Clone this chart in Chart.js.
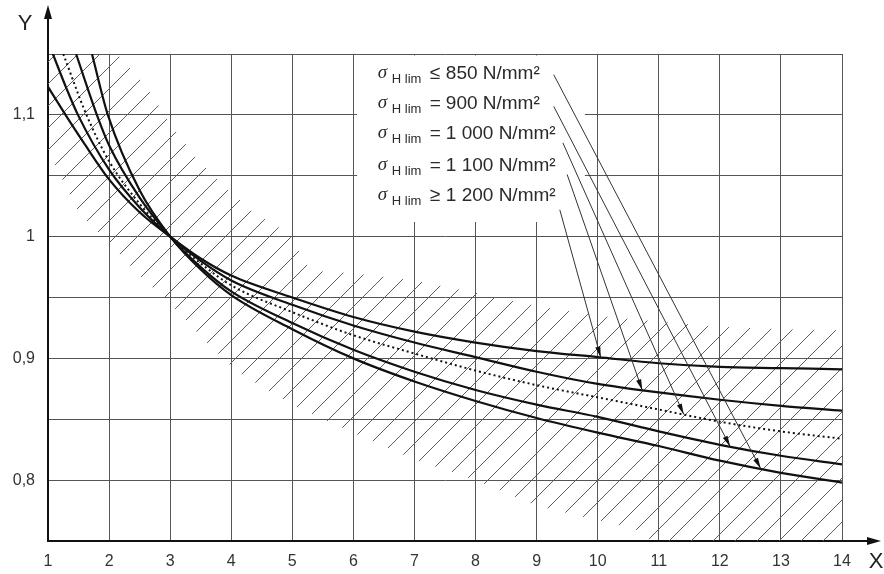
<!DOCTYPE html>
<html>
<head>
<meta charset="utf-8">
<script src="https://cdn.jsdelivr.net/npm/chart.js@4.4.0/dist/chart.umd.min.js"></script>
<style>
  html, body { margin: 0; padding: 0; background: #fff; }
</style>
</head>
<body>
<canvas id="grafico" width="884" height="574"></canvas>
<script>
// ZR over Rz10 for the five sigma H lim curves, [x, y] pairs
const zr1200 = [[1, 1.123], [1.3, 1.099], [1.6, 1.076], [2, 1.047], [2.5, 1.02], [3, 1.0], [3.5, 0.982], [4, 0.968], [5, 0.95], [6, 0.934], [7, 0.922], [8, 0.913], [9, 0.906], [10, 0.901], [11, 0.896], [12, 0.893], [13, 0.892], [14, 0.891]];
const zr1100 = [[1.08, 1.15], [1.3, 1.122], [1.49, 1.1], [2, 1.055], [2.5, 1.024], [3, 1.0], [3.5, 0.98], [4, 0.964], [5, 0.944], [6, 0.927], [7, 0.913], [8, 0.901], [9, 0.889], [10, 0.879], [11, 0.872], [12, 0.866], [13, 0.861], [14, 0.857]];
const zr1000 = [[1.25, 1.15], [1.63, 1.1], [2, 1.062], [2.5, 1.027], [3, 1.0], [3.5, 0.978], [4, 0.96], [5, 0.938], [6, 0.919], [7, 0.904], [8, 0.89], [9, 0.878], [10, 0.868], [11, 0.858], [12, 0.848], [13, 0.84], [14, 0.834]];
const zr900 = [[1.46, 1.15], [1.8, 1.1], [2, 1.075], [2.5, 1.032], [3, 1.0], [3.5, 0.975], [4, 0.955], [5, 0.929], [6, 0.907], [7, 0.889], [8, 0.874], [9, 0.862], [10, 0.852], [11, 0.84], [12, 0.829], [13, 0.82], [14, 0.813]];
const zr850 = [[1.72, 1.15], [1.98, 1.1], [2.5, 1.038], [3, 1.0], [3.5, 0.973], [4, 0.952], [5, 0.924], [6, 0.9], [7, 0.881], [8, 0.865], [9, 0.851], [10, 0.839], [11, 0.828], [12, 0.816], [13, 0.806], [14, 0.798]];

// hatched scatter band: upper and lower edge
const bandUpper = [[1, 1.15], [2.13, 1.15], [2.6, 1.124], [3, 1.093], [3.4, 1.066], [3.85, 1.043], [4.36, 1.02], [4.93, 1.003], [5.3, 0.972], [6, 0.97], [7, 0.964], [8, 0.954], [9, 0.943], [10, 0.935], [11, 0.93], [12, 0.926], [13, 0.924], [14, 0.923]];
const bandLower = [[1, 1.071], [1.5, 1.02], [2, 0.995], [2.5, 0.968], [3, 0.945], [3.6, 0.913], [4.1, 0.889], [5, 0.862], [6, 0.839], [7, 0.817], [8, 0.8], [9, 0.779], [10, 0.767], [10.6, 0.76], [10.9, 0.75], [14, 0.75]];

const yLabelled = [0.8, 0.9, 1, 1.1];

// label rows: relation text, value, start of the leader line, x where the arrow hits its curve
const legendRel = ["\u2264", "=", "=", "=", "\u2265"];
const legendVal = ["850 N/mm\u00b2", "900 N/mm\u00b2", "1 000 N/mm\u00b2", "1 100 N/mm\u00b2", "1 200 N/mm\u00b2"];
const legendBase = [1.1295, 1.105, 1.08, 1.054, 1.0295];
const leaderStart = [[9.28, 1.133], [9.28, 1.107], [9.43, 1.077], [9.5, 1.051], [9.38, 1.022]];
const leaderTipX = [12.67, 12.17, 11.41, 10.73, 10.05];
const leaderCurve = [zr850, zr900, zr1000, zr1100, zr1200];

const pts = (arr) => arr.map((p) => ({ x: p[0], y: p[1] }));

// y on a curve at x, straight between listed points
function curveAt(arr, x) {
  for (let i = 1; i < arr.length; i++) {
    if (x <= arr[i][0]) {
      const a = arr[i - 1], b = arr[i];
      return a[1] + (b[1] - a[1]) * (x - a[0]) / (b[0] - a[0]);
    }
  }
  return arr[arr.length - 1][1];
}

function hatchPattern(ctx) {
  const c = document.createElement("canvas");
  c.width = 22;
  c.height = 22;
  const g = c.getContext("2d");
  g.strokeStyle = "#5e5e5e";
  g.lineWidth = 1;
  g.beginPath();
  [-22, 0, 22].forEach((k) => {
    g.moveTo(k - 1, 23);
    g.lineTo(k + 23, -1);
  });
  g.stroke();
  return ctx.createPattern(c, "repeat");
}

function arrowHead(ctx, x0, y0, x1, y1, len, half) {
  const a = Math.atan2(y1 - y0, x1 - x0);
  ctx.beginPath();
  ctx.moveTo(x1, y1);
  ctx.lineTo(x1 - len * Math.cos(a) + half * Math.sin(a), y1 - len * Math.sin(a) - half * Math.cos(a));
  ctx.lineTo(x1 - len * Math.cos(a) - half * Math.sin(a), y1 - len * Math.sin(a) + half * Math.cos(a));
  ctx.closePath();
  ctx.fill();
}

// white label box, sigma labels and leader arrows
const labelsPlugin = {
  id: "labels",
  afterDatasetsDraw(chart) {
    const ctx = chart.ctx;
    const sx = chart.scales.x, sy = chart.scales.y;
    ctx.save();
    ctx.fillStyle = "#fff";
    const bx = sx.getPixelForValue(6.06), by = sy.getPixelForValue(1.15) + 1.5;
    ctx.fillRect(bx, by, sx.getPixelForValue(9.79) - bx, sy.getPixelForValue(1.012) - by);

    ctx.fillStyle = "#2a2a2a";
    ctx.textBaseline = "alphabetic";
    const x0 = sx.getPixelForValue(6.4);
    legendVal.forEach((v, i) => {
      const yb = sy.getPixelForValue(legendBase[i]);
      ctx.font = 'italic 19px "Liberation Serif"';
      ctx.fillText("\u03c3", x0, yb - 1);
      ctx.font = '13px "Liberation Sans"';
      ctx.fillText("H lim", x0 + 14, yb + 4);
      ctx.font = '19px "Liberation Sans"';
      ctx.fillText(legendRel[i], x0 + 52, yb);
      ctx.fillText(v, x0 + 68, yb);
    });

    ctx.strokeStyle = "#333";
    ctx.fillStyle = "#111";
    ctx.lineWidth = 1;
    leaderStart.forEach((s, i) => {
      const px0 = sx.getPixelForValue(s[0]), py0 = sy.getPixelForValue(s[1]);
      const tx = leaderTipX[i];
      const px1 = sx.getPixelForValue(tx), py1 = sy.getPixelForValue(curveAt(leaderCurve[i], tx));
      ctx.beginPath();
      ctx.moveTo(px0, py0);
      ctx.lineTo(px1, py1);
      ctx.stroke();
      arrowHead(ctx, px0, py0, px1, py1, 11, 2.6);
    });
    ctx.restore();
  },
  afterDraw(chart) {
    // axis arrows and axis letters
    const ctx = chart.ctx;
    const a = chart.chartArea;
    ctx.save();
    ctx.strokeStyle = "#111";
    ctx.fillStyle = "#111";
    ctx.lineWidth = 2;
    ctx.beginPath();
    ctx.moveTo(a.left, a.top);
    ctx.lineTo(a.left, 14);
    ctx.moveTo(a.right, a.bottom);
    ctx.lineTo(872, a.bottom);
    ctx.stroke();
    arrowHead(ctx, a.left, a.top, a.left, 5, 14, 4);
    arrowHead(ctx, a.right, a.bottom, 881, a.bottom, 14, 4);
    ctx.fillStyle = "#222";
    ctx.font = '22px "Liberation Sans"';
    ctx.textAlign = "center";
    ctx.textBaseline = "middle";
    ctx.fillText("Y", 25, 24);
    ctx.fillText("X", 876, 562);
    ctx.restore();
  }
};

const ctx = document.getElementById("grafico").getContext("2d");
const hatch = hatchPattern(ctx);

const curve = (data, dashed) => ({
  data: pts(data),
  borderColor: "#111",
  borderWidth: dashed ? 2 : 2.2,
  borderDash: dashed ? [2, 3] : [],
  pointRadius: 0,
  fill: false,
  cubicInterpolationMode: "monotone"
});

new Chart(ctx, {
  type: "line",
  data: {
    datasets: [
      curve(zr1200, false),
      curve(zr1100, false),
      curve(zr1000, true),
      curve(zr900, false),
      curve(zr850, false),
      {
        data: pts(bandUpper),
        borderWidth: 0,
        pointRadius: 0,
        tension: 0,
        backgroundColor: hatch,
        fill: "+1"
      },
      {
        data: pts(bandLower),
        borderWidth: 0,
        pointRadius: 0,
        tension: 0,
        fill: false
      }
    ]
  },
  options: {
    responsive: false,
    animation: false,
    devicePixelRatio: 1,
    layout: { padding: { top: 54, right: 42, left: 0, bottom: 0 } },
    plugins: { legend: { display: false }, tooltip: { enabled: false } },
    scales: {
      x: {
        type: "linear",
        min: 1,
        max: 14,
        ticks: {
          stepSize: 1,
          color: "#333",
          padding: 11,
          font: { family: "Liberation Sans", size: 16 },
          maxRotation: 0
        },
        grid: { color: "#555", lineWidth: 1, drawTicks: false },
        border: { color: "#111", width: 2 },
        afterFit: (axis) => { axis.height = 33; }
      },
      y: {
        min: 0.75,
        max: 1.15,
        ticks: {
          stepSize: 0.05,
          color: "#333",
          padding: 13,
          font: { family: "Liberation Sans", size: 16 },
          callback: (v) => {
            const hit = yLabelled.find((t) => Math.abs(t - v) < 1e-6);
            return hit === undefined ? "" : String(hit).replace(".", ",");
          }
        },
        grid: { color: "#555", lineWidth: 1, drawTicks: false },
        border: { color: "#111", width: 2 },
        afterFit: (axis) => { axis.width = 48; }
      }
    }
  },
  plugins: [labelsPlugin]
});
</script>
</body>
</html>
